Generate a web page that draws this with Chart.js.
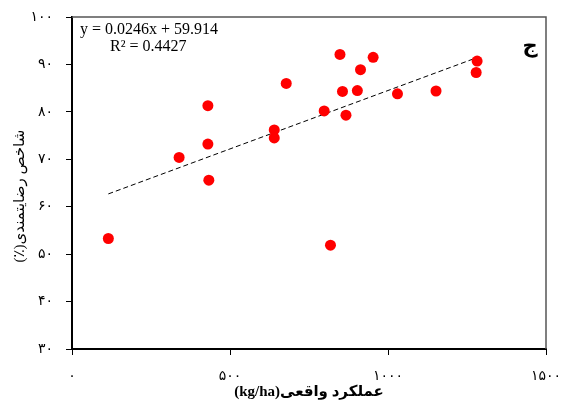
<!DOCTYPE html>
<html>
<head>
<meta charset="utf-8">
<script src="https://cdn.jsdelivr.net/npm/chart.js@4/dist/chart.umd.min.js"></script>
<style>
html,body{margin:0;padding:0;background:#fff;}
#wrap{width:561px;height:403px;}
</style>
</head>
<body>
<div id="wrap"><canvas id="c" width="561" height="403"></canvas></div>
<script>
// Data
const yieldX = [115, 339, 430, 430, 433, 640, 640, 678, 798, 818, 848, 856, 867, 903, 913, 953, 1030, 1152, 1282, 1279];
const satisfactionY = [53.3, 70.4, 81.3, 73.2, 65.6, 76.2, 74.5, 86.0, 80.2, 51.9, 92.1, 84.3, 79.3, 84.5, 88.9, 91.5, 83.8, 84.4, 90.7, 88.3];
const trendX = [115, 1282];
const trendY = [62.7, 91.45];
const xTickValues = [0, 500, 1000, 1500];
const xTickLabels = ['۰', '۵۰۰', '۱۰۰۰', '۱۵۰۰'];
const yTickValues = [30, 40, 50, 60, 70, 80, 90, 100];
const yTickLabels = ['۳۰', '۴۰', '۵۰', '۶۰', '۷۰', '۸۰', '۹۰', '۱۰۰'];
const equationText = 'y = 0.0246x + 59.914';
const r2Text = 'R² = 0.4427';
const panelLabel = 'ج';
const xTitle = 'عملکرد واقعی(kg/ha)';
const yTitle = 'شاخص رضایتمندی(٪)';

const FONT = "'Liberation Serif', 'DejaVu Sans', serif";
const RLE = '\u202B', PDF = '\u202C', NBSP = '\u00A0';

const framePlugin = {
  id: 'frame',
  afterDatasetsDraw(chart) {
    const {ctx, chartArea: a} = chart;
    ctx.save();
    ctx.strokeStyle = '#555';
    ctx.lineWidth = 1.5;
    ctx.beginPath();
    ctx.moveTo(a.left, a.top);
    ctx.lineTo(a.right, a.top);
    ctx.lineTo(a.right, a.bottom);
    ctx.stroke();
    ctx.restore();
  },
  afterDraw(chart) {
    const {ctx} = chart;
    ctx.save();
    ctx.fillStyle = '#000';
    ctx.textBaseline = 'middle';
    ctx.textAlign = 'left';
    ctx.font = "16px " + FONT;
    ctx.fillText(equationText, 80, 30);
    ctx.fillText(r2Text, 110, 47);
    ctx.font = "bold 21px " + FONT;
    ctx.textAlign = 'center';
    ctx.fillText(panelLabel, 530, 47);
    ctx.restore();
  }
};

new Chart(document.getElementById('c'), {
  type: 'scatter',
  data: {
    datasets: [
      {
        type: 'line',
        data: trendX.map((x, i) => ({x: x, y: trendY[i]})),
        borderColor: '#000',
        borderWidth: 1,
        borderDash: [5, 3],
        pointRadius: 0,
        fill: false,
        order: 2
      },
      {
        data: yieldX.map((x, i) => ({x: x, y: satisfactionY[i]})),
        backgroundColor: '#ff0000',
        borderWidth: 0,
        pointRadius: 5.5,
        pointHoverRadius: 5.5,
        order: 1
      }
    ]
  },
  plugins: [framePlugin],
  options: {
    responsive: false,
    animation: false,
    events: [],
    layout: {padding: {top: 17, right: 15, left: 0, bottom: 0}},
    plugins: {legend: {display: false}, tooltip: {enabled: false}},
    scales: {
      x: {
        type: 'linear',
        min: 0, max: 1500,
        afterBuildTicks(s) { s.ticks = xTickValues.map(v => ({value: v})); },
        ticks: {
          autoSkip: false,
          maxRotation: 0,
          padding: 13,
          color: '#000',
          font: {family: FONT, size: 14},
          callback: (v) => xTickLabels[xTickValues.indexOf(v)]
        },
        grid: {display: true, drawOnChartArea: false, drawTicks: true, tickLength: 6, tickColor: '#000', tickWidth: 1},
        border: {display: true, color: '#000', width: 2},
        title: {display: true, text: RLE + xTitle + PDF, color: '#000', font: {family: FONT, size: 15, weight: 'bold'}, padding: {top: 0, bottom: 2}},
        afterFit(s) { s.height = 54; s.paddingLeft = 0; s.paddingRight = 0; }
      },
      y: {
        type: 'linear',
        min: 30, max: 100,
        afterBuildTicks(s) { s.ticks = yTickValues.map(v => ({value: v})); },
        ticks: {
          autoSkip: false,
          padding: 13,
          color: '#000',
          font: {family: FONT, size: 14},
          callback: (v) => yTickLabels[yTickValues.indexOf(v)]
        },
        grid: {display: true, drawOnChartArea: false, drawTicks: true, tickLength: 6, tickColor: '#000', tickWidth: 1},
        border: {display: true, color: '#000', width: 2},
        title: {display: true, text: RLE + NBSP.repeat(7) + yTitle + PDF, color: '#000', font: {family: FONT, size: 15}, padding: {top: 11, bottom: 0}},
        afterFit(s) { s.width = 72; s.paddingTop = 0; s.paddingBottom = 0; }
      }
    }
  }
});
</script>
</body>
</html>
